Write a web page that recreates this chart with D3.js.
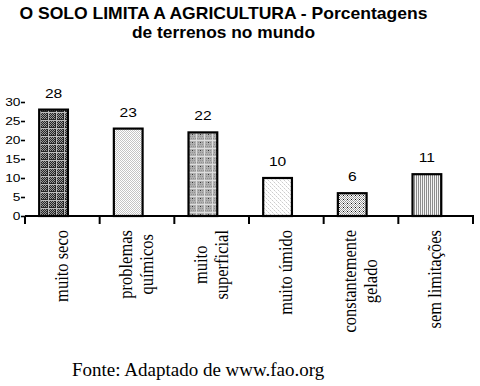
<!DOCTYPE html>
<html>
<head>
<meta charset="utf-8">
<script src="https://cdn.jsdelivr.net/npm/d3@7/dist/d3.min.js"></script>
<style>
  body { margin: 0; background: #fff; }
  svg { display: block; }
</style>
</head>
<body>
<div id="chart"></div>
<script>
// O SOLO LIMITA A AGRICULTURA — bar chart with hatched fills

const categories = [["muito seco"], ["problemas", "químicos"], ["muito", "superficial"],
                    ["muito úmido"], ["constantemente", "gelado"], ["sem limitações"]];
const values = [28, 23, 22, 10, 6, 11];
const yTicks = [0, 5, 10, 15, 20, 25, 30];
const titleLines = ["O SOLO LIMITA A AGRICULTURA - Porcentagens", "de terrenos no mundo"];
const source = "Fonte: Adaptado de www.fao.org";

const W = 480, H = 386;
const SANS = "Arial, 'Liberation Sans', sans-serif";
const SERIF = "'Times New Roman', 'Liberation Serif', serif";
const svg = d3.select("#chart").append("svg").attr("width", W).attr("height", H);
const defs = svg.append("defs");

// fill patterns, one per bar: [size, background, list of [x,y,w,h,color]]
const patterns = [
  [8, "#262626", [[1,1,1,1,"#999"],[3,1,1,1,"#999"],[5,1,1,1,"#999"],[2,2,1,1,"#999"],[4,2,1,1,"#999"],[6,2,1,1,"#999"],
                  [1,3,1,1,"#999"],[3,3,1,1,"#999"],[5,3,1,1,"#999"],[2,4,1,1,"#999"],[4,4,1,1,"#999"],[6,4,1,1,"#999"],
                  [1,5,1,1,"#999"],[3,5,1,1,"#999"],[5,5,1,1,"#999"],[2,6,1,1,"#999"],[4,6,1,1,"#999"],[6,6,1,1,"#999"],
                  [0,0,8,1,"#bbb"],[0,0,1,8,"#bbb"]]],
  [2, "#ffffff", [[0,0,1,1,"#c4c4c4"],[1,1,1,1,"#c4c4c4"]]],
  [8, "#b0b0b0", [[0,0,1,1,"#909090"],[2,0,1,1,"#909090"],[4,0,1,1,"#909090"],[6,0,1,1,"#909090"],
                  [1,2,1,1,"#909090"],[3,2,1,1,"#909090"],[5,2,1,1,"#909090"],[7,2,1,1,"#909090"],
                  [0,4,8,1,"#ddd"],[4,0,1,8,"#ddd"],[0,6,1,1,"#333"],[2,6,1,1,"#909090"],[6,6,1,1,"#909090"]]],
  [4, "#ffffff", [[0,0,1,1,"#ccc"],[2,2,1,1,"#ccc"],[1,1,1,1,"#e6e6e6"],[3,3,1,1,"#e6e6e6"]]],
  [4, "#ffffff", [[0,0,1,1,"#999"],[2,0,1,1,"#999"],[1,1,1,1,"#999"],[3,1,1,1,"#999"],
                  [0,2,1,1,"#999"],[2,2,1,1,"#999"],[1,3,1,1,"#999"],[3,3,1,1,"#111"]]],
  [2, "#f4f4f4", [[0,0,1,2,"#8c8c8c"]]]
];
patterns.forEach((p, i) => {
  const pat = defs.append("pattern").attr("id", "pat" + i)
    .attr("patternUnits", "userSpaceOnUse").attr("width", p[0]).attr("height", p[0]);
  pat.append("rect").attr("width", p[0]).attr("height", p[0]).attr("fill", p[1]);
  p[2].forEach(r => pat.append("rect").attr("x", r[0]).attr("y", r[1]).attr("width", r[2]).attr("height", r[3]).attr("fill", r[4]));
});

const keys = categories.map(c => c.join(" "));
const x = d3.scaleBand().domain(keys).range([25, 473]).padding(0);
const y = d3.scaleLinear().domain([0, 30]).range([216, 102]);

// Title (glyphs a little wider than the font, as in the source scan)
const titleW = [408, 183];
svg.selectAll(".title").data(titleLines).enter().append("text")
  .attr("x", 223.5).attr("y", (d, i) => 19 + i * 18.5)
  .attr("text-anchor", "middle")
  .attr("textLength", (d, i) => titleW[i]).attr("lengthAdjust", "spacingAndGlyphs")
  .attr("font-family", SANS).attr("font-weight", "bold").attr("font-size", "17px")
  .attr("fill", "#000").text(d => d);

// Y axis (ticks only, no domain line)
const yAxis = svg.append("g").attr("transform", "translate(25,0)")
  .call(d3.axisLeft(y).tickValues(yTicks).tickSize(4).tickFormat(""));
yAxis.select(".domain").remove();
yAxis.selectAll("line").attr("stroke", "#000").attr("stroke-width", 1.6);
svg.selectAll(".ylab").data(yTicks).enter().append("text")
  .attr("transform", d => "translate(20.5," + (y(d) + 4) + ") scale(1.25,1)")
  .attr("text-anchor", "end")
  .attr("font-family", SANS).attr("font-size", "11px").attr("fill", "#000").text(d => d);

// Bars
const bw = x.bandwidth();
const barX = i => x(keys[i]) + bw * 0.19;
const barW = bw * 0.385;
svg.selectAll(".bar").data(values).enter().append("rect")
  .attr("x", (d, i) => barX(i))
  .attr("width", barW)
  .attr("y", d => y(d))
  .attr("height", d => y(0) - y(d))
  .attr("fill", (d, i) => "url(#pat" + i + ")")
  .attr("stroke", "#000").attr("stroke-width", 2.2);

// Value labels
svg.selectAll(".val").data(values).enter().append("text")
  .attr("transform", (d, i) => "translate(" + (barX(i) + barW / 2) + "," + (y(d) - 12) + ") scale(1.2,1)")
  .attr("text-anchor", "middle")
  .attr("font-family", SANS).attr("font-size", "13px")
  .attr("fill", "#000").text(d => d);

// X axis line + boundary ticks
svg.append("line").attr("x1", 25).attr("x2", 474).attr("y1", y(0)).attr("y2", y(0))
  .attr("stroke", "#000").attr("stroke-width", 2);
const bounds = keys.map(k => x(k)).concat([x.range()[1]]);
svg.selectAll(".xtick").data(bounds).enter().append("line")
  .attr("x1", d => d).attr("x2", d => d).attr("y1", y(0)).attr("y2", y(0) + 8)
  .attr("stroke", "#000").attr("stroke-width", 2);

// Category labels, rotated, block top-aligned at y=230, lines centred
const labTop = 230;
categories.forEach((lines, i) => {
  const cx = x(keys[i]) + bw / 2;
  const g = svg.append("g");
  const texts = g.selectAll("text").data(lines).enter().append("text")
    .attr("font-family", SERIF).attr("font-size", "16.5px")
    .attr("fill", "#000").attr("text-anchor", "middle").text(d => d);
  let maxW = 0;
  texts.each(function() { maxW = Math.max(maxW, this.getComputedTextLength()); });
  const n = lines.length;
  texts.attr("transform", (d, j) => {
    const px = cx + (j - (n - 1) / 2) * 21 + 5.5;
    const py = labTop + maxW / 2;
    return "translate(" + px + "," + py + ") rotate(-90) scale(1,1.15)";
  });
});

// Source
svg.append("text").attr("x", 72).attr("y", 376)
  .attr("font-family", SERIF).attr("font-size", "19px")
  .attr("fill", "#000").text(source);
</script>
</body>
</html>
